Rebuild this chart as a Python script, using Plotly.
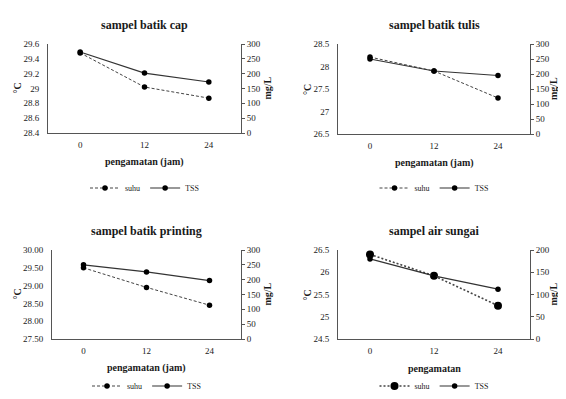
import plotly.graph_objects as go

categories = ["0", "12", "24"]

titles = ["sampel batik cap", "sampel batik tulis", "sampel batik printing", "sampel air sungai"]
x_titles = ["pengamatan (jam)", "pengamatan (jam)", "pengamatan (jam)", "pengamatan"]

suhu_cap = [29.48, 29.02, 28.87]
tss_cap = [273, 202, 172]
suhu_tulis = [28.21, 27.9, 27.3]
tss_tulis = [250, 210, 195]
suhu_printing = [29.5, 28.95, 28.45]
tss_printing = [250, 226, 197]
suhu_sungai = [26.4, 25.92, 25.25]
tss_sungai = [180, 142, 112]

left_ranges = [(28.4, 29.6, 0.2), (26.5, 28.5, 0.5), (27.5, 30.0, 0.5), (24.5, 26.5, 0.5)]
right_ranges = [(0, 300, 50), (0, 300, 50), (0, 300, 50), (0, 200, 50)]

suhu_all = [suhu_cap, suhu_tulis, suhu_printing, suhu_sungai]
tss_all = [tss_cap, tss_tulis, tss_printing, tss_sungai]

# page has an 8px body margin; figure sized to fit inside the window without overflow
OFF = 8
W, H = 566 - 2 * OFF, 399 - 2 * OFF


def px(x):
    return (x - OFF) / W


def py(y):
    return 1 - (y - OFF) / H


# plot boxes in window pixels: (left, right, top, bottom)
boxes = [(48, 241, 44, 133), (338, 530, 44, 134), (52, 241, 250, 339), (338, 530, 250, 339)]
legend_y = [188, 188, 386, 386]
mgl_dx = [26, 23, 26, 23]

FONT = "Liberation Serif"
TXT = "#1a1a1a"
fig = go.Figure()
layout = dict(
    width=W, height=H, margin=dict(l=0, r=0, t=0, b=0, autoexpand=False),
    paper_bgcolor="white", plot_bgcolor="white",
    font=dict(family=FONT, color=TXT, size=9),
    annotations=[],
)

for i in range(4):
    l, r, t, b = boxes[i]
    xd = [px(l), px(r)]
    yd = [py(b), py(t)]
    xa = "x" if i == 0 else f"x{i+1}"
    ya_l = f"y{2*i+1}" if i > 0 else "y"
    ya_r = f"y{2*i+2}"
    leg = "legend" if i == 0 else f"legend{i+1}"
    sungai = i == 3
    fig.add_trace(go.Scatter(
        x=categories, y=suhu_all[i], name="suhu", mode="lines+markers",
        line=dict(color="#444", width=1.6 if sungai else 1,
                  dash="2px,2px" if sungai else "3px,2px"),
        marker=dict(symbol="circle", size=8 if sungai else 5.5, color="black"),
        xaxis=xa, yaxis=ya_l, legend=leg,
    ))
    fig.add_trace(go.Scatter(
        x=categories, y=tss_all[i], name="TSS", mode="lines+markers",
        line=dict(color="#333", width=1.2),
        marker=dict(symbol="circle", size=5.5, color="black"),
        xaxis=xa, yaxis=ya_r, legend=leg,
    ))
    xkey = "xaxis" if i == 0 else f"xaxis{i+1}"
    ylkey = "yaxis" if i == 0 else f"yaxis{2*i+1}"
    yrkey = f"yaxis{2*i+2}"
    layout[xkey] = dict(
        domain=xd, anchor=ya_l, type="category", range=[-0.5, 2.5], automargin=False,
        showline=True, linecolor="#555", linewidth=1, showgrid=False, ticks="",
        tickfont=dict(size=9, family=FONT, color=TXT), ticklabelstandoff=3,
        fixedrange=True,
    )
    lo, hi, dt = left_ranges[i]
    layout[ylkey] = dict(
        domain=yd, anchor=xa, range=[lo, hi], dtick=dt, tick0=lo, automargin=False,
        showline=True, linecolor="#555", linewidth=1, showgrid=False, zeroline=False,
        ticks="", tickfont=dict(size=9, family=FONT, color=TXT), ticklabelstandoff=6,
        tickformat=".2f" if i == 2 else "",
    )
    rlo, rhi, rdt = right_ranges[i]
    layout[yrkey] = dict(
        domain=yd, anchor=xa, overlaying=ya_l, side="right", range=[rlo, rhi], dtick=rdt,
        automargin=False,
        showline=True, linecolor="#555", linewidth=1, showgrid=False, zeroline=False,
        ticks="outside", ticklen=3, tickcolor="#555", tickfont=dict(size=9, family=FONT, color=TXT),
    )
    cxp = (l + r) / 2
    layout[leg] = dict(
        orientation="h", x=px(cxp), xanchor="center",
        y=py(legend_y[i]), yanchor="middle",
        font=dict(size=8, family=FONT, color=TXT), itemwidth=30, bgcolor="rgba(0,0,0,0)",
    )
    ann = layout["annotations"]
    ann.append(dict(
        text=f"<b>{titles[i]}</b>", x=px(cxp), y=py(t - 19),
        xref="paper", yref="paper", showarrow=False, font=dict(size=12, family=FONT, color=TXT),
        xanchor="center", yanchor="middle",
    ))
    ann.append(dict(
        text=f"<b>{x_titles[i]}</b>", x=px(cxp), y=py(b + 29),
        xref="paper", yref="paper", showarrow=False, font=dict(size=10, family=FONT, color=TXT),
        xanchor="center", yanchor="middle",
    ))
    ann.append(dict(
        text="<b>°C</b>", x=px(l - 31 if i != 2 else l - 35), y=py((t + b) / 2),
        xref="paper", yref="paper", showarrow=False, textangle=-90,
        font=dict(size=10, family=FONT, color=TXT), xanchor="center", yanchor="middle",
    ))
    ann.append(dict(
        text="<b>mg/L</b>", x=px(r + mgl_dx[i]), y=py((t + b) / 2),
        xref="paper", yref="paper", showarrow=False, textangle=-90,
        font=dict(size=10, family=FONT, color=TXT), xanchor="center", yanchor="middle",
    ))

fig.update_layout(**layout)
fig.write_html("out.html")
